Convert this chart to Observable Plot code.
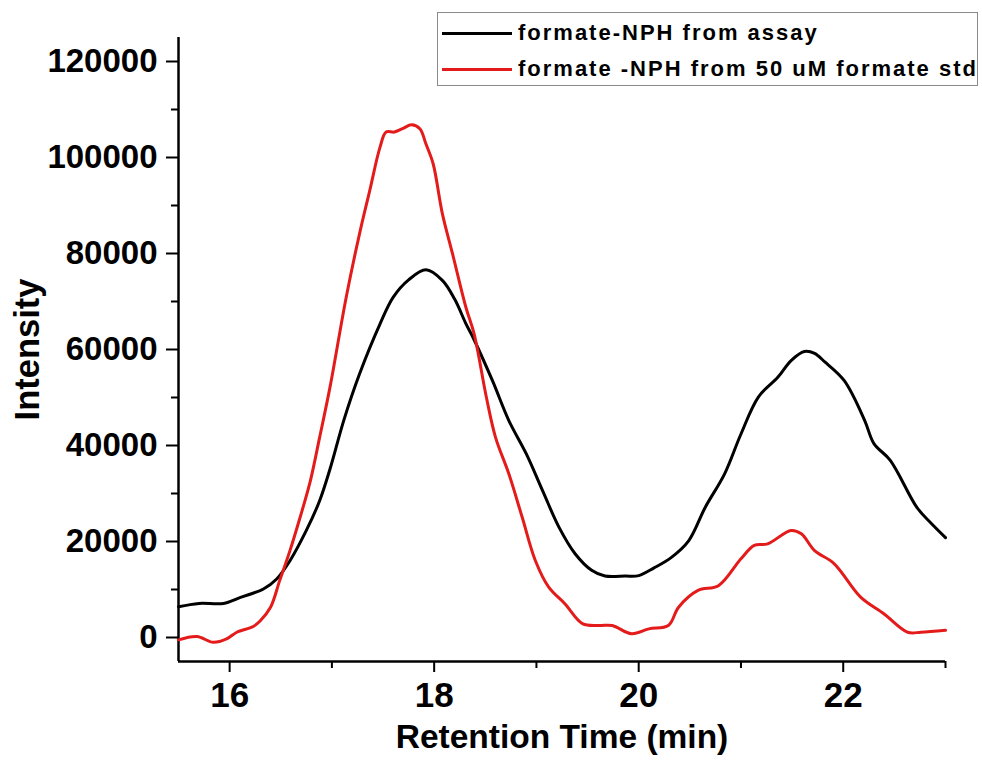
<!DOCTYPE html>
<html>
<head>
<meta charset="utf-8">
<script src="https://cdn.jsdelivr.net/npm/d3@7"></script>
<script src="https://cdn.jsdelivr.net/npm/@observablehq/plot@0.6"></script>
<style>
  html, body { margin: 0; padding: 0; background: #fff; }
  #wrap { position: relative; width: 982px; height: 774px; }
  #legend {
    position: absolute; left: 437px; top: 12px; width: 541px; height: 74px;
    border: 1.5px solid #8a8a8a; background: #fff; box-sizing: border-box;
    font-family: "Liberation Sans", Arial, sans-serif; font-weight: bold; font-size: 22px;
    letter-spacing: 2px; color: #000;
  }
  .row { position: absolute; left: 4px; height: 30px; display: flex; align-items: center; white-space: nowrap; }
  .sw { width: 70px; height: 3px; margin-right: 6px; }
</style>
</head>
<body>
<div id="wrap">
  <div id="chart"></div>
  <div id="legend">
    <div class="row" style="top:5px"><div class="sw" style="background:#000"></div><span>formate-NPH from assay</span></div>
    <div class="row" style="top:41px"><div class="sw" style="background:#e41b1b"></div><span>formate -NPH from 50 uM formate std</span></div>
  </div>
</div>
<script>
// Series: formate-NPH from assay (black)
const assayTime = [15.5, 15.7, 15.94, 16.1, 16.33, 16.46, 16.59, 16.75, 16.88, 16.98, 17.12, 17.27, 17.47, 17.6, 17.75, 17.92, 18.08, 18.2, 18.31, 18.38, 18.57, 18.73, 18.9, 19.06, 19.22, 19.38, 19.54, 19.67, 19.87, 20.0, 20.15, 20.32, 20.49, 20.65, 20.84, 21.0, 21.17, 21.36, 21.49, 21.62, 21.72, 21.82, 22.01, 22.21, 22.3, 22.46, 22.72, 22.85, 23.0];
const assayIntensity = [6400, 7100, 7100, 8300, 10100, 12200, 16000, 22300, 28500, 35000, 45500, 54900, 65300, 70900, 74500, 76600, 74400, 70500, 65400, 62500, 53500, 45200, 38300, 30600, 23000, 17400, 14000, 12800, 12800, 12900, 14500, 16700, 20200, 27100, 34100, 42400, 50100, 54200, 57700, 59600, 59200, 57400, 53500, 45200, 40400, 36900, 27100, 24000, 20800];

// Series: formate -NPH from 50 uM formate std (red)
const stdTime = [15.5, 15.68, 15.84, 15.97, 16.07, 16.23, 16.3, 16.4, 16.49, 16.59, 16.69, 16.79, 16.88, 16.98, 17.14, 17.27, 17.37, 17.47, 17.53, 17.61, 17.69, 17.78, 17.86, 17.92, 17.99, 18.08, 18.18, 18.31, 18.39, 18.51, 18.6, 18.73, 18.86, 18.99, 19.12, 19.28, 19.45, 19.61, 19.74, 19.93, 20.1, 20.29, 20.39, 20.58, 20.78, 21.0, 21.13, 21.26, 21.49, 21.59, 21.72, 21.91, 22.17, 22.4, 22.63, 22.76, 23.0];
const stdIntensity = [-500, 200, -1000, -300, 1100, 2300, 3500, 6300, 11900, 18100, 25100, 32700, 41700, 52000, 70900, 84100, 93100, 102100, 105300, 105300, 106000, 106800, 106000, 102800, 98700, 88300, 79900, 68800, 63300, 50100, 41700, 34100, 25100, 16000, 10500, 7000, 2900, 2500, 2500, 800, 1800, 2500, 6300, 9800, 10800, 16400, 19200, 19500, 22300, 21600, 18100, 15400, 8400, 4900, 1100, 1100, 1500];

const xMajorTicks = [16, 18, 20, 22];
const xMinorTicks = [17, 19, 21, 23];
const yMajorTicks = [0, 20000, 40000, 60000, 80000, 100000, 120000];
const yMinorTicks = [10000, 30000, 50000, 70000, 90000, 110000];

const assay = assayTime.map((t, i) => ({t, v: assayIntensity[i]}));
const std = stdTime.map((t, i) => ({t, v: stdIntensity[i]}));

const boldFont = '"Liberation Sans", Arial, sans-serif';

const chart = Plot.plot({
  width: 982,
  height: 774,
  marginLeft: 178,
  marginRight: 37,
  marginTop: 37,
  marginBottom: 113,
  style: {background: "#fff", color: "#000", fontFamily: boldFont, overflow: "visible"},
  x: {domain: [15.5, 23]},
  y: {domain: [-5000, 125000]},
  marks: [
    Plot.axisY({ticks: yMajorTicks, tickSize: 12, tickPadding: 9, strokeWidth: 2, tickFormat: d => String(d), fontSize: 33, fontWeight: "bold", fontFamily: boldFont, label: null}),
    Plot.axisY({ticks: yMinorTicks, tickSize: 7, strokeWidth: 2, tickFormat: () => "", label: null}),
    Plot.axisX({ticks: xMajorTicks, tickSize: 11, tickPadding: 10, strokeWidth: 2, tickFormat: d => String(d), fontSize: 35, fontWeight: "bold", fontFamily: boldFont, label: null, ariaLabel: "xticklabels"}),
    Plot.axisX({ticks: xMinorTicks, tickSize: 7, strokeWidth: 2, tickFormat: () => "", label: null}),
    Plot.ruleX([15.5], {strokeWidth: 2.5}),
    Plot.ruleY([-5000], {strokeWidth: 2.5}),
    Plot.line(assay, {x: "t", y: "v", stroke: "#000", strokeWidth: 3, curve: "catmull-rom"}),
    Plot.line(std, {x: "t", y: "v", stroke: "#e41b1b", strokeWidth: 3, curve: "catmull-rom"}),
    Plot.text(["Intensity"], {frameAnchor: "left", dx: -151, rotate: -90, textAnchor: "middle", lineAnchor: "middle", fontSize: 34.5, fontWeight: "bold", fontFamily: boldFont}),
    Plot.text(["Retention Time (min)"], {frameAnchor: "bottom", dy: 76, lineAnchor: "middle", fontSize: 33.5, fontWeight: "bold", fontFamily: boldFont})
  ]
});
document.getElementById("chart").appendChild(chart);
// condense x tick labels (reference uses a narrow face)
chart.querySelectorAll('g[aria-label="xticklabels"] text, g[aria-label="x-axis tick label"] text').forEach(t => {
  if (!t.textContent) return;
  const len = t.getComputedTextLength();
  t.setAttribute("textLength", (len * 0.84).toFixed(1));
  t.setAttribute("lengthAdjust", "spacingAndGlyphs");
});
</script>
</body>
</html>
